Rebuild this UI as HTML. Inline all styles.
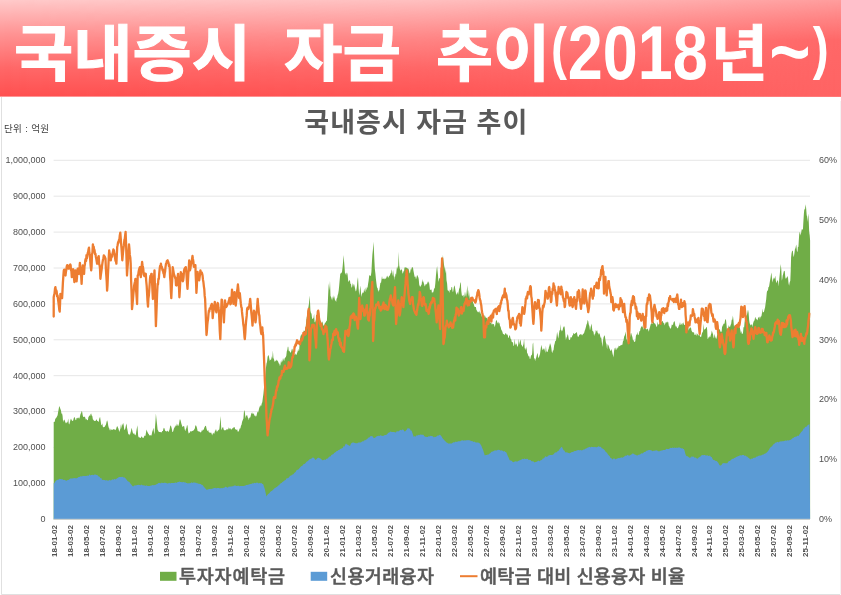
<!DOCTYPE html>
<html lang="ko"><head><meta charset="utf-8"><title>국내증시 자금 추이</title>
<style>html,body{margin:0;padding:0;background:#fff}svg{display:block}text{font-family:"Liberation Sans","Noto Sans CJK KR",sans-serif}.t{font-family:"Liberation Sans","Noto Sans CJK KR",sans-serif;font-weight:700;fill:#fff;stroke:#fff;stroke-width:1px}.n{font-family:"Liberation Sans",sans-serif;font-weight:700;fill:#fff}.n2{font-family:"Liberation Sans",sans-serif;font-weight:400;fill:#fff;stroke:#fff;stroke-width:1.5px}.k1{font-family:"Noto Sans CJK KR",sans-serif;font-weight:900;fill:#fff}.ax{font-size:9px;fill:#505050}.xl{font-size:8px;fill:#505050;font-weight:700}.lg{font-family:"Liberation Sans","Noto Sans CJK KR",sans-serif;font-size:18.5px;fill:#595959;font-weight:500;stroke:#595959;stroke-width:0.5px}</style></head><body>
<svg width="841" height="595" viewBox="0 0 841 595">
<defs><linearGradient id="bg" x1="0" y1="0" x2="0" y2="1"><stop offset="0" stop-color="#ffcaca"/><stop offset="0.35" stop-color="#ff9494"/><stop offset="0.7" stop-color="#ff6868"/><stop offset="1" stop-color="#ff5050"/></linearGradient><linearGradient id="bg2" x1="0" y1="0" x2="0" y2="1"><stop offset="0" stop-color="#ff9c9c"/><stop offset="0.21" stop-color="#ff8080"/><stop offset="0.42" stop-color="#ff6767"/><stop offset="1" stop-color="#ff6464"/></linearGradient><linearGradient id="mk" x1="0" y1="0" x2="1" y2="0"><stop offset="0" stop-color="#fff" stop-opacity="0"/><stop offset="0.5" stop-color="#fff" stop-opacity="0.22"/><stop offset="0.8" stop-color="#fff" stop-opacity="0.62"/><stop offset="1" stop-color="#fff" stop-opacity="1"/></linearGradient><mask id="m" maskUnits="userSpaceOnUse" x="0" y="0" width="841" height="97"><rect width="841" height="97" fill="url(#mk)"/></mask></defs>
<rect width="841" height="595" fill="#fff"/>
<rect width="841" height="96.6" fill="url(#bg)"/>
<rect width="841" height="96.6" fill="url(#bg2)" mask="url(#m)"/>
<path d="M1.5 97 V594.5 H840" fill="none" stroke="#e0e0e0" stroke-width="1"/>
<path d="M840.5 101 V594.5" fill="none" stroke="#f3f3f3" stroke-width="1"/>
<text><tspan class="t" x="14" y="75.8" font-size="61" textLength="237" lengthAdjust="spacingAndGlyphs">국내증시</tspan> <tspan class="t" x="284" y="75.8" font-size="61" textLength="117" lengthAdjust="spacingAndGlyphs">자금</tspan> <tspan class="t" x="436" y="75.8" font-size="61" textLength="114" lengthAdjust="spacingAndGlyphs">추이</tspan><tspan class="n" x="551" y="67.8" font-size="58" textLength="16" lengthAdjust="spacingAndGlyphs">(</tspan><tspan class="n" x="567.7" y="79.3" font-size="75.6" textLength="140" lengthAdjust="spacingAndGlyphs">2018</tspan><tspan class="t" x="711" y="75.8" font-size="61" textLength="57" lengthAdjust="spacingAndGlyphs">년</tspan><tspan class="n2" x="769.5" y="82.5" font-size="92" textLength="41" lengthAdjust="spacingAndGlyphs">~</tspan><tspan class="n" x="812.8" y="67.8" font-size="58" textLength="16" lengthAdjust="spacingAndGlyphs">)</tspan></text>
<text x="415.8" y="131.6" text-anchor="middle" font-size="27px" style="font-family:'Liberation Sans','Noto Sans CJK KR',sans-serif;font-weight:700" fill="#595959" textLength="223" lengthAdjust="spacing">국내증시 자금 추이</text>
<text x="4" y="132" font-size="9.5px" style="font-family:'Liberation Sans','Noto Sans CJK KR',sans-serif" fill="#404040" textLength="45" lengthAdjust="spacing">단위 : 억원</text>
<line x1="53.6" x2="810" y1="519.3" y2="519.3" stroke="#e6e6e6" stroke-width="1"/>
<text class="ax" x="45.5" y="522.1" text-anchor="end">0</text>
<line x1="53.6" x2="810" y1="483.4" y2="483.4" stroke="#e6e6e6" stroke-width="1"/>
<text class="ax" x="45.5" y="486.2" text-anchor="end">100,000</text>
<line x1="53.6" x2="810" y1="447.5" y2="447.5" stroke="#e6e6e6" stroke-width="1"/>
<text class="ax" x="45.5" y="450.3" text-anchor="end">200,000</text>
<line x1="53.6" x2="810" y1="411.6" y2="411.6" stroke="#e6e6e6" stroke-width="1"/>
<text class="ax" x="45.5" y="414.4" text-anchor="end">300,000</text>
<line x1="53.6" x2="810" y1="375.7" y2="375.7" stroke="#e6e6e6" stroke-width="1"/>
<text class="ax" x="45.5" y="378.5" text-anchor="end">400,000</text>
<line x1="53.6" x2="810" y1="339.8" y2="339.8" stroke="#e6e6e6" stroke-width="1"/>
<text class="ax" x="45.5" y="342.6" text-anchor="end">500,000</text>
<line x1="53.6" x2="810" y1="303.9" y2="303.9" stroke="#e6e6e6" stroke-width="1"/>
<text class="ax" x="45.5" y="306.7" text-anchor="end">600,000</text>
<line x1="53.6" x2="810" y1="268" y2="268" stroke="#e6e6e6" stroke-width="1"/>
<text class="ax" x="45.5" y="270.8" text-anchor="end">700,000</text>
<line x1="53.6" x2="810" y1="232.1" y2="232.1" stroke="#e6e6e6" stroke-width="1"/>
<text class="ax" x="45.5" y="234.9" text-anchor="end">800,000</text>
<line x1="53.6" x2="810" y1="196.2" y2="196.2" stroke="#e6e6e6" stroke-width="1"/>
<text class="ax" x="45.5" y="199" text-anchor="end">900,000</text>
<line x1="53.6" x2="810" y1="160.3" y2="160.3" stroke="#e6e6e6" stroke-width="1"/>
<text class="ax" x="45.5" y="163.1" text-anchor="end">1,000,000</text>
<text class="ax" x="819" y="522.1">0%</text>
<text class="ax" x="819" y="462.3">10%</text>
<text class="ax" x="819" y="402.4">20%</text>
<text class="ax" x="819" y="342.6">30%</text>
<text class="ax" x="819" y="282.8">40%</text>
<text class="ax" x="819" y="222.9">50%</text>
<text class="ax" x="819" y="163.1">60%</text>
<path d="M53.7 421.9 L54.2 422.1 L54.8 421.4 L55.3 418.5 L55.9 418.6 L56.4 417.5 L57 416.5 L57.6 415.2 L58.1 412.2 L58.7 409.1 L59.2 406 L59.8 407.3 L60.4 409 L60.9 410.2 L61.5 413.7 L62.1 413.5 L62.6 415.9 L63.1 421.9 L63.7 420.2 L64.3 419.4 L64.8 420.6 L65.4 422.3 L66 423.6 L66.5 422.5 L67.1 422.5 L67.6 421.9 L68.2 418.5 L68.8 423.8 L69.3 424.5 L69.9 422.2 L70.4 420.1 L71 418.6 L71.6 419.9 L72.1 420.7 L72.7 421.1 L73.2 420.5 L73.8 418 L74.4 416.9 L74.9 417.7 L75.5 420.1 L76.1 420.3 L76.6 417.8 L77.2 418.5 L77.7 417.7 L78.3 417.6 L78.9 418.5 L79.4 418.6 L80 416.3 L80.5 414.1 L81.1 413.1 L81.6 411 L82.2 412 L82.7 415.2 L83.3 416.9 L83.8 417.1 L84.3 416.6 L84.8 417.1 L85.3 417.7 L85.8 419.7 L86.3 418.8 L86.8 419.7 L87.3 420.3 L87.9 419.9 L88.4 417.1 L88.9 416.6 L89.5 415.2 L90.1 416 L90.6 414.1 L91.2 413.5 L91.7 415.4 L92.3 416 L92.9 419.4 L93.4 419.7 L94 420.7 L94.5 421.1 L95.1 420.8 L95.7 420.9 L96.2 419.4 L96.7 419.4 L97.2 421.2 L97.7 420.7 L98.2 421.5 L98.7 421.9 L99.2 418.9 L99.6 417.8 L100.1 416.9 L100.7 421.3 L101.3 425.3 L101.8 425.1 L102.3 423.3 L102.8 426.4 L103.3 427.5 L103.8 427 L104.3 427.1 L104.9 426.4 L105.5 425.3 L106 424.4 L106.6 421.7 L107.1 420.3 L107.7 421.9 L108.3 426.1 L108.8 427.8 L109.3 428.4 L109.8 430.2 L110.3 430.4 L110.8 428.6 L111.3 430.3 L111.8 429.3 L112.4 429.9 L112.9 429.4 L113.4 429.1 L113.9 429.5 L114.4 429.6 L115 429.5 L115.5 430.3 L116.1 428.9 L116.7 426.9 L117.2 426.1 L117.8 427.2 L118.3 428.3 L118.9 430.3 L119.4 432 L119.9 430.1 L120.4 428.8 L120.9 424.2 L121.4 428.7 L122 423.6 L122.5 425.7 L123.1 422.8 L123.7 425 L124.2 429 L124.8 430.3 L125.4 427.9 L125.9 425.5 L126.5 423.6 L127 427.4 L127.6 430.5 L128.2 433.7 L128.7 434.6 L129.3 434.1 L129.8 435.4 L130.4 432.9 L131 430.9 L131.5 427.8 L132.1 429.8 L132.6 431.9 L133.2 433.7 L133.7 433.3 L134.2 435.3 L134.7 433.1 L135.2 434.7 L135.7 435.4 L136.3 431.2 L136.8 428.6 L137.4 425.3 L137.8 430.4 L138.2 436.2 L138.7 436.9 L139.2 438.2 L139.7 436.7 L140.3 438.1 L140.8 437.9 L141.3 436.3 L141.8 436.7 L142.3 437.4 L142.8 437.8 L143.3 437.9 L143.8 437.6 L144.4 435.2 L144.9 436.2 L145.5 435.4 L146.1 431.7 L146.6 429.5 L147.1 431.2 L147.6 432.2 L148.2 433.8 L148.7 433.8 L149.2 435.4 L149.7 435.3 L150.2 434.9 L150.7 435.6 L151.2 435.8 L151.7 434.5 L152.2 431.9 L152.8 430.2 L153.4 427.8 L153.9 431.2 L154.5 434.5 L155 427.2 L155.4 422.3 L155.9 413.5 L156.4 418.5 L157 423.8 L157.6 429.5 L158.1 430.4 L158.7 431.8 L159.2 432 L159.7 431.9 L160.3 431.9 L160.8 432.3 L161.3 432.4 L161.8 432 L162.3 430.9 L162.9 430.9 L163.4 428.7 L163.9 427.8 L164.5 428.6 L165 430.5 L165.5 430.9 L166 431.2 L166.5 431.7 L167 430.8 L167.5 430.7 L168 431.6 L168.5 432 L169 431 L169.6 429.2 L170.1 426.6 L170.7 425.3 L171.2 426.6 L171.8 428.7 L172.4 432 L172.9 431.9 L173.4 430.4 L173.9 428.4 L174.4 427.8 L174.9 426.5 L175.4 426.4 L175.9 424.9 L176.4 426.2 L176.9 423.6 L177.5 425.1 L178 426.2 L178.6 425.3 L179.1 423.2 L179.7 419.6 L180.3 419.4 L180.8 421.2 L181.4 423.7 L181.9 425.3 L182.5 426.9 L183.1 426.4 L183.6 426.1 L184.2 426.2 L184.7 429.3 L185.3 431.2 L185.8 429.2 L186.4 428 L186.9 425.6 L187.5 425.3 L188.1 430.9 L188.7 433.7 L189.1 432.8 L189.6 433 L190 431.9 L190.5 431.1 L191 431.6 L191.5 431.6 L192 431 L192.5 431.1 L193.1 430.4 L193.6 430.4 L194.2 429.4 L194.8 428.4 L195.3 425.7 L195.9 425.2 L196.4 426.3 L197 428 L197.6 431.1 L198.1 431.3 L198.6 431.4 L199.1 431 L199.6 431.9 L200.1 431.9 L200.6 432.6 L201.1 432.2 L201.6 431 L202.1 429.6 L202.6 431.1 L203.2 429.9 L203.7 429.4 L204.3 427.7 L204.8 426.7 L205.4 425.8 L206 426.1 L206.5 428.6 L207.1 430.5 L207.6 431.1 L208.2 430.1 L208.7 432 L209.2 432.6 L209.7 432.4 L210.2 432.8 L210.7 432.7 L211.2 432.6 L211.7 434.1 L212.2 435.6 L212.7 433.6 L213.2 433.7 L213.7 432.4 L214.2 433.9 L214.7 431.8 L215.2 431.1 L215.7 429.6 L216.2 429.4 L216.7 431.7 L217.2 431.4 L217.7 431.1 L218.3 429.4 L218.9 430.6 L219.4 428.6 L219.9 423.5 L220.4 416 L220.9 422.4 L221.4 430.3 L222 428.6 L222.5 427.6 L223.1 426.9 L223.6 429.3 L224 430.2 L224.5 430.3 L225 430.2 L225.5 430.1 L226 430.4 L226.5 429.1 L227 429.4 L227.5 428.9 L228 429.9 L228.5 426.9 L229 429.6 L229.5 428.6 L230 427.7 L230.5 428.8 L231 429.4 L231.5 429.2 L232 429.4 L232.5 427.8 L233 428.6 L233.5 427.4 L234 426.9 L234.6 427.2 L235.1 429 L235.7 429.6 L236.2 429.4 L236.7 429.9 L237.2 429.3 L237.7 431.8 L238.2 431 L238.7 431.9 L239.3 429.5 L239.9 428.3 L240.4 428.6 L241 425.4 L241.5 425 L242.1 421.8 L242.5 420.7 L243 419.5 L243.4 418.5 L243.9 411.9 L244.5 410.1 L245 413.6 L245.5 418.5 L246 415.7 L246.6 415.5 L247.1 415.1 L247.7 417.2 L248.3 418.3 L248.8 420.2 L249.4 417.3 L249.9 417.9 L250.5 416.8 L251.1 414.3 L251.6 413.1 L252.2 412.6 L252.7 413.9 L253.2 414.3 L253.7 413.1 L254.2 414.7 L254.7 416 L255.3 415.5 L255.8 416.7 L256.4 416 L256.9 414.1 L257.5 411.4 L258.1 412.6 L258.6 410.7 L259.2 408 L259.7 406.7 L260.3 405.1 L260.9 406.8 L261.4 405 L261.8 403.2 L262.3 402.3 L262.9 397.4 L263.4 393.9 L263.9 388.8 L264.3 384.8 L264.8 380.4 L265.4 375.3 L265.9 368.2 L266.5 363.6 L267 362 L267.6 356.8 L268.2 355.2 L268.7 355.5 L269.3 358.4 L269.8 361.1 L270.3 359.7 L270.8 360.1 L271.3 356 L271.8 359.7 L272.4 356.9 L272.9 350.6 L273.4 358.1 L273.9 359.1 L274.4 361.1 L274.9 361.9 L275.4 360.3 L276 361.6 L276.6 359.4 L277.1 360.3 L277.7 360.9 L278.2 361.7 L278.8 363.6 L279.4 363.8 L279.9 366.1 L280.4 364.9 L280.9 360.9 L281.4 363 L281.9 360.1 L282.4 361.9 L283 358.1 L283.6 359.7 L284.1 361.2 L284.7 358.2 L285.2 357.7 L285.8 356.9 L286.3 355.7 L286.8 351.3 L287.3 349.9 L287.8 346.8 L288.3 346.8 L288.7 350.6 L289.2 351.8 L289.7 350.6 L290.3 352.5 L290.8 352.8 L291.4 350.8 L292 348.5 L292.5 349.3 L293 351.7 L293.5 353.3 L294 351.4 L294.5 354.8 L295 355.2 L295.6 353.2 L296.1 354.9 L296.6 354.4 L297.1 353.1 L297.7 351.2 L298.2 348.8 L298.7 351.2 L299.2 350.2 L299.6 343.7 L300 339.2 L300.6 335.9 L301.1 335 L301.7 333.8 L302.2 338.3 L302.8 335.6 L303.4 332.2 L303.9 330.3 L304.5 331 L305 330.8 L305.6 327.3 L306.2 321.8 L306.7 317.2 L307.3 315.1 L307.8 310.2 L308.4 307.2 L309 303.6 L309.6 295.5 L310 301.5 L310.4 310.6 L311 313.3 L311.5 313.4 L312.1 318.4 L312.6 319 L313.1 318.6 L313.6 317.4 L314.1 313.6 L314.6 322 L315.1 322.4 L315.6 320.8 L316.1 318.7 L316.6 317.9 L317.1 316.3 L317.6 313.9 L318.2 314.4 L318.7 315.5 L319.2 317.6 L319.7 317.8 L320.2 320.7 L320.7 321 L321.3 324.4 L321.8 323 L322.4 321.3 L323 324.3 L323.5 325.7 L324.1 325.6 L324.6 323.8 L325.2 322.8 L325.8 322.2 L326.3 321.1 L326.9 320.7 L327.3 312.7 L327.8 302.7 L328.2 293.8 L328.8 283.2 L329.4 290.4 L330 280.5 L330.5 295.9 L331.1 297.1 L331.6 300 L332.1 296.3 L332.6 300.8 L333.1 294.9 L333.6 298.8 L334.1 295.9 L334.6 298.3 L335.1 300.8 L335.6 300.3 L336.1 302.2 L336.6 298.6 L337.1 298.3 L337.6 295.5 L338.2 293.4 L338.7 290.4 L339.2 285.5 L339.8 278.8 L340.3 273.6 L340.9 273.6 L341.5 272.7 L342 271.9 L342.6 267.1 L343.1 261.4 L343.7 255.1 L344.1 261.7 L344.6 267.7 L345 273.6 L345.5 273.2 L346.1 275.5 L346.6 272.7 L347.1 272.8 L347.6 274.8 L348.2 280.8 L348.7 282 L349.3 280.5 L349.9 280.1 L350.4 283.7 L351 284 L351.5 287.7 L352.1 287.1 L352.6 282.6 L353.1 286.7 L353.6 284.3 L354.1 284.2 L354.6 286.2 L355.2 289.1 L355.7 291.5 L356.3 290.4 L356.9 286.6 L357.4 280.5 L358 277 L358.6 288.1 L359.2 295.5 L359.7 292.1 L360.2 285.4 L360.8 289.9 L361.3 297.1 L361.9 294 L362.5 293.1 L363 292.1 L363.6 293.2 L364.1 288.6 L364.7 290.9 L365.3 292 L365.8 287.3 L366.4 290.4 L366.9 287.1 L367.5 288.1 L368.1 283.7 L368.6 280.8 L369.2 275.6 L369.7 275.3 L370.3 275.9 L370.9 275.4 L371.4 271.9 L371.9 262.6 L372.4 254.5 L372.9 249.8 L373.4 241.7 L373.9 249.5 L374.3 258.4 L374.8 268.6 L375.4 273.4 L375.9 278.8 L376.5 283.7 L377 287.6 L377.6 287.9 L378.2 292.1 L378.7 290.3 L379.3 290.3 L379.8 287.1 L380.4 282.5 L381 282.9 L381.5 279.5 L382 275.9 L382.5 278.9 L383 279 L383.5 278.6 L384 278.7 L384.5 279.6 L385 277.6 L385.5 279.2 L386.1 278.3 L386.6 277 L387.1 275.6 L387.6 276.4 L388.1 277.8 L388.6 277.3 L389.1 276.1 L389.6 275.8 L390.2 274.6 L390.8 272.8 L391.2 272.9 L391.7 269.2 L392.1 271.1 L392.6 274.5 L393.1 276.4 L393.6 269.4 L394.1 280.3 L394.6 276.5 L395.1 276.7 L395.6 273.3 L396.1 274.7 L396.6 269.4 L397.1 266 L397.6 269 L398.2 265.9 L398.7 251.7 L399.2 265.2 L399.7 267.9 L400.3 271.1 L400.8 269.4 L401.4 269.3 L402 270.2 L402.5 273.6 L403 273.2 L403.5 270.9 L404 271.4 L404.5 267.3 L405 267.7 L405.5 267.2 L406.1 267.5 L406.6 267.8 L407.1 268.1 L407.6 268.6 L408.1 268.4 L408.6 269.1 L409.1 271.3 L409.6 273.4 L410.1 272.8 L410.7 269 L411.2 269.7 L411.8 267.5 L412.4 267.5 L412.9 266.9 L413.4 270.6 L413.8 272.5 L414.3 275.3 L414.8 277.3 L415.4 276.3 L416 279.5 L416.5 277.6 L417.1 274.8 L417.6 276.1 L418.2 277.1 L418.7 279.1 L419.2 284.4 L419.7 286.1 L420.2 287.1 L420.7 285.9 L421.2 285.3 L421.7 284.2 L422.2 279 L422.7 282 L423.2 281.2 L423.7 282.9 L424.2 284.4 L424.7 286.4 L425.2 285.4 L425.8 283.9 L426.3 283.7 L426.9 284.8 L427.5 281.2 L428 283.8 L428.6 281.2 L429 282.2 L429.5 285.7 L430 290.3 L430.5 289.5 L431 289.9 L431.5 289.2 L432 293.4 L432.5 292 L433.1 292.6 L433.6 290.9 L434.2 288 L434.7 288.7 L435.3 283.6 L435.9 275.9 L436.5 270 L437.1 266 L437.5 270.4 L438 275.3 L438.4 281.9 L439 279.4 L439.5 277.7 L440.1 278.6 L440.5 275.5 L441 284.3 L441.4 283.6 L441.9 275.5 L442.4 262.4 L442.9 255 L443.4 259.8 L443.9 263.9 L444.3 266.4 L444.8 268.5 L445.4 273.6 L445.9 267.7 L446.5 280.3 L447.1 283.6 L447.6 290.3 L448.2 290.4 L448.8 291 L449.3 292.9 L449.9 289.2 L450.4 290.5 L451 289.7 L451.5 287 L452.1 287 L452.7 292 L453.2 291.6 L453.8 287.6 L454.4 285.3 L454.9 286.9 L455.5 290.8 L456.1 293.7 L456.6 295 L457.1 292 L457.6 292.8 L458.1 294.7 L458.6 292 L459.1 289 L459.7 287.6 L460.2 283.4 L460.8 281.9 L461.3 291.1 L461.9 295.4 L462.4 295.9 L462.9 295.3 L463.4 294.7 L463.9 297.7 L464.5 295.4 L465 291.5 L465.6 295.3 L466.1 297.1 L466.7 292.1 L467.3 285.3 L467.8 292.8 L468.3 297.1 L468.8 289.8 L469.3 294.5 L469.8 298.7 L470.3 298.7 L470.8 297.5 L471.3 302 L471.8 300.4 L472.4 299.9 L472.9 302.1 L473.4 303.4 L473.9 304.6 L474.4 306.4 L474.9 306.9 L475.4 307.1 L475.9 307 L476.4 309.9 L476.9 310.5 L477.4 311.5 L477.9 312.2 L478.4 311.5 L478.9 312.8 L479.4 310.4 L479.9 313.3 L480.4 313.9 L480.9 311.3 L481.4 316.9 L481.9 315 L482.4 314.6 L482.9 315.5 L483.4 314.9 L483.9 319.3 L484.5 315.3 L485 315.5 L485.5 317.2 L486 317.8 L486.5 318.3 L487 317.3 L487.5 319 L488 320.6 L488.5 317.8 L489 320.3 L489.5 323.2 L490 314.2 L490.5 323.1 L491 323.1 L491.5 323.2 L492 324.9 L492.5 323.5 L493 323.9 L493.6 324 L494.1 324.8 L494.7 327.3 L495.3 324.8 L495.8 321.6 L496.4 319.7 L496.9 321.1 L497.4 322.4 L497.9 323.6 L498.4 321.6 L498.9 323.9 L499.5 322.6 L500 325.9 L500.6 326.8 L501.2 329.5 L501.8 330.6 L502.4 331.7 L502.9 333.8 L503.5 334.1 L504.1 334.4 L504.7 335 L505.3 333.5 L505.9 332.9 L506.5 334.3 L507.1 335.3 L507.6 334 L508.2 337.9 L508.8 337.6 L509.4 335 L510 336 L510.6 338.8 L511.2 339.2 L511.8 341.9 L512.4 342.4 L512.9 341.8 L513.5 346.3 L514.1 345.3 L514.7 338.5 L515.3 345.4 L515.9 343.5 L516.5 343.7 L517.1 346.1 L517.6 347.1 L518.2 344.6 L518.8 338.8 L519.4 344.7 L520 341.1 L520.6 339.4 L521.2 344.5 L521.8 345.3 L522.4 346.9 L522.9 346.1 L523.5 344.1 L524.1 338.8 L524.7 348.4 L525.3 348.2 L525.9 350.3 L526.5 346.4 L527.1 352.9 L527.6 353.4 L528.2 355.4 L528.8 356.5 L529.3 356.2 L529.8 359.1 L530.4 358.8 L530.8 356.4 L531.3 355 L531.8 355.3 L532.2 353.1 L532.7 344 L533.2 342.4 L533.6 350.5 L534.1 358.8 L534.6 358.1 L535.1 361.2 L535.5 359.2 L536 358.2 L536.5 356.5 L537.1 354 L537.6 353.1 L538.2 357.6 L538.8 357.8 L539.4 355.7 L540 354.1 L540.5 350.3 L540.9 347.4 L541.4 344.7 L541.9 347.5 L542.4 349.4 L542.9 350.2 L543.5 348.7 L544.1 348.2 L544.7 350.1 L545.3 352.9 L545.9 345.8 L546.5 351.5 L547.1 351.8 L547.6 352.1 L548.2 349.8 L548.8 348.2 L549.3 343.2 L549.8 347.2 L550.4 342.9 L550.8 345.1 L551.3 347.8 L551.8 351.8 L552.4 352.9 L552.9 350.3 L553.5 350.6 L554.1 345.5 L554.7 343.5 L555.3 340.5 L555.9 341.2 L556.5 337.1 L557.1 331.8 L557.6 334.4 L558.2 338.8 L558.7 336.1 L559.3 331.6 L559.8 330 L560.2 330 L560.7 323.9 L561.2 331.8 L561.8 330.1 L562.4 330.9 L562.9 328.8 L563.5 326.7 L564 326.5 L564.5 326.5 L564.9 329.5 L565.4 335.5 L565.9 340 L566.5 337.6 L567.1 336.5 L567.6 334.1 L568.2 335.4 L568.8 339.5 L569.4 340 L570 340.1 L570.6 337 L571.2 337.6 L571.8 337.3 L572.4 335.2 L572.9 335.3 L573.5 332.7 L574.1 333.7 L574.7 334.1 L575.3 333.3 L575.9 333.1 L576.5 331.8 L577.1 333.5 L577.6 336.2 L578.2 337.1 L578.8 336.2 L579.4 334.5 L580 335.1 L580.6 334.1 L581.2 334 L581.8 335.3 L582.4 335.3 L582.9 334 L583.5 333.7 L584.1 332.9 L584.7 330.7 L585.3 329.3 L585.9 327.1 L586.5 324.5 L587.1 323.3 L587.6 320 L588.2 321 L588.8 324.4 L589.4 325.9 L590 330.6 L590.5 327.8 L590.9 326 L591.4 323.5 L591.9 326.5 L592.4 330.7 L592.9 331.2 L593.5 331.7 L594.1 335.9 L594.7 334.1 L595.3 333.5 L595.9 329.7 L596.5 331.8 L597.1 330 L597.6 332.8 L598.2 332.9 L598.8 334.8 L599.4 333 L600 335.3 L600.6 337.7 L601.2 337.6 L601.8 341.9 L602.4 347.1 L602.9 341.4 L603.5 337.6 L604.1 335.9 L604.7 335.3 L605.3 338.9 L605.9 342.4 L606.5 344.2 L607.1 349.4 L607.6 344.3 L608.2 344.7 L608.8 346.2 L609.4 348.2 L610 349.4 L610.6 350.9 L611.2 350.6 L611.6 348.7 L612.1 351.5 L612.6 354.1 L613.1 355.4 L613.5 357.6 L614.1 350.7 L614.7 348.2 L615.3 347.5 L615.9 350 L616.5 349.4 L617.1 347.1 L617.6 348.8 L618.2 347.6 L618.8 345.4 L619.4 346.2 L620 345.9 L620.6 345.2 L621.2 345.3 L621.8 344.7 L622.4 344.7 L622.9 341.4 L623.5 340.6 L624.1 336.7 L624.7 335.5 L625.3 334.1 L625.9 331.6 L626.5 339.4 L627.1 339.5 L627.6 341 L628.2 343.5 L628.8 342.2 L629.4 336.7 L630 337.6 L630.6 333.6 L631.2 332.9 L631.8 335.2 L632.4 336.9 L632.9 340 L633.5 340 L634.1 342.1 L634.7 341.8 L635.3 341.2 L635.9 335.9 L636.5 334.1 L637.1 335.3 L637.6 331.7 L638.2 335.3 L638.8 334.5 L639.4 331.1 L640 331.2 L640.6 328.3 L641.2 326.9 L641.8 325.9 L642.4 327.8 L642.9 324.9 L643.5 330 L644.1 326.7 L644.7 325.5 L645.3 328.2 L645.9 328.5 L646.5 329.7 L647.1 328.8 L647.6 328.7 L648.2 329.8 L648.8 331.8 L649.4 328.9 L650 327.1 L650.6 324.4 L651.2 323.5 L651.8 323.2 L652.4 324.2 L652.9 322.4 L653.5 321.2 L654.1 323 L654.7 323.5 L655.3 323.8 L655.9 325.2 L656.5 327.1 L657.1 326.2 L657.6 321.6 L658.2 324.7 L658.8 324.2 L659.4 323.7 L660 323 L660.6 322.4 L661.2 322.2 L661.8 321.8 L662.4 321 L662.9 321.2 L663.5 323.3 L664.1 323 L664.7 325.6 L665.3 323.5 L665.9 322.1 L666.5 322.7 L667.1 321.2 L667.6 322.4 L668.2 322.1 L668.8 325.8 L669.4 326.4 L670 328.2 L670.6 328.8 L671.2 327.4 L671.8 324.6 L672.4 324.7 L672.9 325.3 L673.5 322.6 L674.1 321.5 L674.7 321.2 L675.3 325.3 L675.9 326.8 L676.5 326.2 L677.1 328.2 L677.6 328.3 L678.2 327.4 L678.8 325.8 L679.4 324.7 L680 321.9 L680.6 324.9 L681.2 324.7 L681.8 323.5 L682.4 322.9 L682.9 325.4 L683.5 322.1 L684.1 324.7 L684.7 324.9 L685.2 324.7 L685.8 321.3 L686.3 323.4 L686.9 322.9 L687.4 324.7 L688 323.5 L688.6 330.7 L689 328.7 L689.5 328.4 L690 327.1 L690.5 327.7 L691 327.7 L691.5 330.5 L692 331.6 L692.5 332.2 L693 332.2 L693.5 332.6 L694 332.2 L694.5 334.9 L695 334.7 L695.5 335 L696.1 332.7 L696.6 336.3 L697.1 333.8 L697.6 333.9 L698.1 335.9 L698.6 334.5 L699.1 335.7 L699.6 334.1 L700.1 336.4 L700.6 336.9 L701.1 336.9 L701.6 334.7 L702.1 332.8 L702.6 332.2 L703.1 330.9 L703.6 323.5 L704.1 329.7 L704.6 329.4 L705.1 328.8 L705.7 328.8 L706.2 327.2 L706.8 327.1 L707.2 330.2 L707.6 338.9 L708.2 338.4 L708.7 336.9 L709.2 337.5 L709.7 336 L710.2 337.2 L710.7 335.2 L711.3 333.5 L711.8 330.5 L712.4 332.4 L713 334.3 L713.5 337.2 L714 338.6 L714.5 333.7 L715 335.9 L715.5 337.6 L716.1 338.9 L716.6 338.1 L717.2 334.7 L717.7 332.2 L718.3 331 L718.9 330.4 L719.4 328.8 L720 330 L720.5 331.4 L721.1 332.2 L721.7 330.9 L722.2 324.8 L722.8 327.1 L723.3 324.2 L723.9 323.6 L724.5 323.8 L725 320.4 L725.6 318.7 L726.1 320.7 L726.5 324.4 L727 330.5 L727.5 328.7 L728 331.1 L728.5 324.8 L729 327.1 L729.5 326.6 L730.1 326.8 L730.6 325 L731.2 323.8 L731.7 319.8 L732.3 319.7 L732.9 315.4 L733.4 319.7 L734 327.1 L734.6 325.5 L735.1 325 L735.7 326.8 L736.2 325.5 L736.7 323.7 L737.2 325 L737.7 323.5 L738.2 324.9 L738.7 322.1 L739.3 326.4 L739.9 328.1 L740.4 330.5 L740.9 333.2 L741.4 330.7 L741.9 334.2 L742.4 333.3 L742.9 333.9 L743.5 326.9 L744.1 327.5 L744.6 322.1 L745.2 318 L745.7 318.4 L746.3 315.4 L746.9 315.3 L747.4 312.6 L748 309.5 L748.6 312.7 L749.2 320.4 L749.6 323 L750.1 324.6 L750.5 325.5 L751 324.2 L751.5 325.1 L752 324.1 L752.5 327.3 L753 323.8 L753.5 322.1 L754 320.7 L754.5 320.5 L755 317.8 L755.5 317.1 L756.1 319.7 L756.7 318.5 L757.2 320.4 L757.8 319.3 L758.3 316.8 L758.9 317.9 L759.4 316.3 L759.9 319.5 L760.4 317 L760.9 316.4 L761.4 316.2 L761.9 313.6 L762.4 308.4 L762.9 313.1 L763.4 312.1 L763.9 312 L764.5 309.5 L765.1 307.2 L765.6 303.6 L766.2 299.3 L766.8 292.4 L767.3 290.2 L767.9 290.9 L768.4 287.3 L769 286.8 L769.2 285.8 L769.7 282.5 L770.1 280.3 L770.6 277.4 L771 274.4 L771.4 272.4 L772 278.2 L772.6 282.4 L773.1 280 L773.5 277.3 L773.9 279.1 L774.4 278.5 L774.8 277.7 L775.3 275.7 L775.9 280.9 L776.5 283.3 L777.1 281 L777.6 279.9 L778.2 281.8 L778.7 286.6 L779.2 279.6 L779.8 274 L780.3 268.4 L780.7 263.9 L781.3 269.5 L781.8 280.8 L782.3 278.8 L782.7 275.5 L783.2 274 L783.8 271.2 L784.4 270.7 L784.8 271.5 L785.3 277 L785.7 279.1 L786.3 277.1 L786.8 278.8 L787.4 275.7 L788 277.7 L788.5 282.9 L789.1 285.8 L789.7 282.3 L790.3 280.8 L790.7 271.2 L791.1 257.2 L791.5 253.6 L792 251.2 L792.4 250.5 L792.9 251.3 L793.3 255.3 L793.8 257.2 L794.4 253.2 L795 248.8 L795.4 248.4 L795.9 246.1 L796.3 244.6 L796.9 250.7 L797.5 252.2 L797.9 246.8 L798.4 247.1 L798.8 240.4 L799.2 234.6 L799.7 232 L800.1 232.6 L800.5 235.4 L801.1 233.1 L801.7 229.5 L802.3 229.1 L802.9 230.3 L803.4 221.3 L803.9 213.5 L804.4 208.6 L805 210.1 L805.5 204.3 L806.1 207.8 L806.7 215.2 L807.1 216.2 L807.6 221.9 L808 217 L808.4 213.5 L808.8 222.5 L809.2 232 L809.7 235.2 L810.1 240.4 L810.1 519.3 L53.7 519.3 Z" fill="#70ad47"/>
<path d="M53.7 483.3 L54.5 483.3 L55.2 481.4 L56 480.9 L56.7 479.9 L57.6 479.8 L58.4 479.8 L59.2 478.8 L60.1 479.1 L60.9 479.1 L61.8 479.2 L62.6 479.3 L63.4 479.9 L64.3 479.8 L65.1 480.2 L66 480.4 L66.8 480.8 L67.6 480 L68.5 480.1 L69.3 479.3 L70.2 479.1 L71 477.7 L71.8 479.1 L72.7 478.3 L73.5 478.2 L74.4 478 L75.2 478.3 L76.1 478.3 L76.9 478.2 L77.7 477.8 L78.6 477.1 L79.4 477 L80.3 476.6 L81.1 475.9 L81.9 476.8 L82.8 475.7 L83.6 476.1 L84.5 475.9 L85.3 475.9 L86.1 475.9 L87 475.7 L87.8 475.5 L88.7 475.7 L89.5 474.2 L90.3 475.4 L91.2 475.1 L92 474.9 L92.9 474.7 L93.7 475.2 L94.5 474.5 L95.4 474.4 L96.2 475.1 L97.1 474.7 L97.9 475.7 L98.7 476.6 L99.6 476.8 L100.4 478.2 L101.3 478.1 L102.1 479.9 L102.9 479.7 L103.8 479.9 L104.6 480.1 L105.5 480.4 L106.3 480 L107.1 480.8 L108 480.3 L108.8 480.7 L109.7 479.7 L110.5 480.4 L111.3 480.2 L112.2 479.3 L113 479.7 L113.9 479.4 L114.7 478.7 L115.5 479.4 L116.4 478.8 L117.2 478.2 L118.1 477.7 L118.9 476.9 L119.7 477 L120.6 477.1 L121.4 477.1 L122.3 476.8 L123.1 477.3 L123.9 477.6 L124.8 477.4 L125.6 478.4 L126.5 479.4 L127.3 480.8 L128.2 481.5 L129 481.7 L129.8 482.4 L130.7 483.9 L131.5 484.7 L132.4 486.1 L133.2 486.5 L134 485.7 L134.9 485.2 L135.7 485.5 L136.6 485.3 L137.4 484.9 L138.2 484.7 L139.1 485 L139.9 485 L140.8 485.3 L141.6 484.4 L142.4 485.2 L143.3 485.3 L144.1 485.5 L145 485.5 L145.8 485.9 L146.6 485.3 L147.5 486.1 L148.3 485.9 L149.2 486.1 L150 485.9 L150.8 485.6 L151.7 485.4 L152.5 485.1 L153.4 485.3 L154.2 485 L155 485.3 L155.9 484.6 L156.7 484.2 L157.6 483.8 L158.4 483.1 L159.2 482.9 L160.1 483.1 L160.9 483.6 L161.8 482.4 L162.6 483.1 L163.4 483.1 L164.3 482.8 L165.1 482.8 L166 483 L166.8 483.2 L167.6 483.5 L168.5 483.2 L169.3 482.8 L170.2 483.4 L171 482.9 L171.8 483.1 L172.7 482.9 L173.5 483 L174.4 482.9 L175.2 482.5 L176.1 482.7 L176.9 482.8 L177.7 482 L178.6 481.9 L179.4 481.6 L180.3 481.9 L181.1 481.9 L181.9 482.3 L182.8 482.2 L183.6 481.9 L184.5 482.4 L185.3 482.2 L186.1 483 L187 483.1 L187.8 483.5 L188.7 483.3 L189.3 483.3 L190 483.2 L190.8 483 L191.7 482.2 L192.5 483 L193.4 482.4 L194.2 482.2 L195 483.1 L195.9 482.6 L196.7 483.2 L197.6 483.2 L198.4 483.7 L199.2 483.7 L200.1 484 L200.9 484.1 L201.8 484.9 L202.6 484.9 L203.4 486.2 L204.3 487.2 L205.1 488.2 L206 488.9 L206.8 489.9 L207.6 489.4 L208.5 489.3 L209.3 489.1 L210.2 489.1 L211 488.8 L211.8 488.9 L212.7 488.4 L213.5 488.2 L214.4 487.9 L215.2 487.8 L216.1 488.4 L216.9 487.9 L217.7 488 L218.6 488.1 L219.4 488.2 L220.3 488.2 L221.1 488.3 L221.9 488 L222.8 488.3 L223.6 487.7 L224.5 487.8 L225.3 486.4 L226.1 487.2 L227 487.1 L227.8 488 L228.7 486.4 L229.5 486.7 L230.3 486.6 L231.2 486.7 L232 486.1 L232.9 486.4 L233.7 485.7 L234.5 485.4 L235.4 485.4 L236.2 485.9 L237.1 486.1 L237.9 485.8 L238.7 485.7 L239.6 486.2 L240.4 486.1 L241.3 486.1 L242.1 486.1 L242.9 485.9 L243.8 486.1 L244.6 485.8 L245.5 485.4 L246.3 484.9 L247.1 484.9 L248 484.8 L248.8 484.6 L249.7 484.3 L250.5 484 L251.3 484.1 L252.2 483.2 L253 483.4 L253.9 483.2 L254.7 482.8 L255.5 483.2 L256.4 482.7 L257.2 482.4 L258.1 483.3 L258.9 483.3 L259.7 482.9 L260.6 483.2 L261.4 483.1 L262.3 483.9 L263.1 484 L263.9 486.5 L264.8 489.1 L265.6 492.8 L266.5 496.6 L267.3 495 L268.2 494.1 L269 493.5 L269.8 492.5 L270.7 491.6 L271.5 491.1 L272.4 490.4 L273.2 489.4 L274 489.1 L274.9 487.7 L275.7 487.7 L276.6 487 L277.4 486.6 L278.2 485.5 L279.1 485.2 L279.9 484 L280.8 483.2 L281.6 483.1 L282.4 482 L283.3 481.5 L284.1 480.7 L285 480.2 L285.8 479.7 L286.6 478.3 L287.5 478.2 L288.3 477.9 L289.2 476.9 L290 475.9 L290.8 475.6 L291.7 475.2 L292.5 474.5 L293.4 474.2 L294.2 473.1 L295 472.5 L295.9 471.6 L296.7 470 L297.6 469.7 L298.4 469.5 L299.2 468.6 L300.1 467.5 L300.9 466.4 L301.8 465.9 L302.6 465.6 L303.4 464.2 L304.3 463.9 L305.1 463.5 L306 462.6 L306.8 461.6 L307.6 461.3 L308.4 460.6 L309.2 459.8 L310 458.8 L310.8 459.1 L311.6 458.6 L312.5 457.4 L313.3 457.7 L314 457.8 L314.7 459.1 L315.5 459.9 L316.3 459.3 L317.1 458.5 L317.9 457.8 L318.7 457.7 L319.6 458.2 L320.4 458.4 L321.2 459.1 L322 459.9 L322.8 460.2 L323.7 460 L324.5 459.6 L325.3 459.9 L326.2 458.9 L327 458.5 L327.9 458.5 L328.8 457.1 L329.7 456.6 L330.5 456.6 L331.4 455 L332.3 454.6 L333.2 454.2 L334 453.3 L334.9 452.4 L335.8 452.1 L336.7 450.9 L337.5 451 L338.4 450.1 L339.3 450 L340.1 449 L341 448.8 L341.9 448.2 L342.8 447.9 L343.6 446 L344.4 446.7 L345.2 444.8 L346 443.5 L346.9 444.4 L347.7 444.7 L348.5 445.2 L349.3 445.7 L350.1 445.7 L351 443.4 L351.8 443.1 L352.6 442.4 L353.5 442.5 L354.3 442.8 L355.2 443.3 L356.1 443 L357 443.5 L357.9 442.7 L358.8 442.4 L359.7 442.6 L360.6 442.4 L361.5 442 L362.4 441.3 L363.3 441.5 L364.2 440.3 L365 440.4 L365.9 439.8 L366.8 439.2 L367.7 438.4 L368.5 437.6 L369.4 437.5 L370.3 436.3 L371.2 435.9 L372 436.3 L372.8 436.6 L373.6 438.1 L374.4 438.1 L375.3 437.5 L376.1 436.8 L376.9 436.3 L377.7 435.9 L378.6 435.8 L379.5 435.9 L380.3 435.3 L381.2 435.5 L382.1 435.9 L383 435.8 L383.8 435.8 L384.7 434.9 L385.6 435 L386.5 434.8 L387.3 433.9 L388.2 432.7 L389.1 432.7 L390 431.8 L390.8 431.5 L391.7 432 L392.6 431.9 L393.4 432.1 L394.3 431.9 L395.2 432.6 L396.1 432.2 L396.9 431 L397.8 431.4 L398.7 431.3 L399.6 430.4 L400.4 429.7 L401.2 430.2 L402 430.1 L402.8 429.3 L403.6 430 L404.3 431.2 L405 431.5 L405.8 430.7 L406.7 429.7 L407.5 428.3 L408.3 428.2 L409.1 428.4 L409.9 428.8 L410.8 430.7 L411.6 430.4 L412.3 432.7 L413 434.7 L413.8 437 L414.6 436.1 L415.5 436.7 L416.4 435.2 L417.3 435.7 L418.1 434.8 L419 435.2 L419.9 434.8 L420.8 434.5 L421.6 434.8 L422.5 434.8 L423.4 434.8 L424.2 435.9 L425.1 436.7 L426 436.8 L426.9 437 L427.7 437.1 L428.6 436.3 L429.5 436.4 L430.4 435.7 L431.2 435.9 L432.1 435.9 L433 436.6 L433.9 437.4 L434.7 436.8 L435.6 437 L436.5 436.5 L437.4 435.4 L438.2 435.7 L439.1 434.9 L440 434.8 L440.8 435.4 L441.6 436.4 L442.4 438.1 L443.3 439.2 L444.1 439.8 L444.9 441 L445.7 441.5 L446.5 442.4 L447.3 442.7 L448.2 443.5 L449 443.5 L449.8 443.5 L450.7 443.6 L451.6 443.6 L452.4 442.9 L453.3 442.3 L454.2 442.4 L455 441.9 L455.9 441.4 L456.8 441.9 L457.7 441.4 L458.5 441.3 L459.4 441.3 L460.3 441.2 L461.2 440.4 L462 440.5 L462.9 440.2 L463.8 440.7 L464.7 440.3 L465.5 440.6 L466.4 440.2 L467.3 440.2 L468.2 440.1 L469.1 440.5 L470 440.1 L470.9 441.2 L471.8 441 L472.7 441.3 L473.6 442.1 L474.4 441.4 L475.2 442.2 L476 442.4 L476.7 442.5 L477.5 442.4 L478.2 442.4 L479.1 443.1 L480 443.5 L480.7 444.7 L481.5 446.1 L482.2 447.9 L483.1 449.9 L483.9 452.8 L484.8 455.5 L485.8 455 L486.8 455.1 L487.8 454.6 L488.7 454.4 L489.6 453.6 L490.5 452.9 L491.4 451.8 L492.2 451.7 L493.1 451.2 L494 451.1 L494.9 450.3 L495.7 450.4 L496.6 450.5 L497.5 450.1 L498.3 449.8 L499.2 450.1 L500.1 449.9 L501 450.9 L501.8 450.1 L502.7 451 L503.6 451.4 L504.5 451.1 L505.3 452 L506.2 452.3 L507 454.1 L507.9 456.2 L508.7 457.8 L509.5 459.9 L510.4 460.4 L511.2 460.5 L512.1 461.3 L513 462.3 L513.9 462.1 L514.7 461.4 L515.6 461.2 L516.5 461.6 L517.4 461.5 L518.2 461 L519.1 460.4 L520 460.3 L520.8 459.8 L521.7 459.4 L522.6 458.8 L523.5 459.3 L524.3 458.6 L525.2 459 L526.1 458.9 L527 458.8 L527.8 459 L528.7 459.9 L529.6 459.7 L530.5 460 L531.3 461 L532.2 461.6 L533.1 461 L534 462.3 L534.8 462.2 L535.7 462.1 L536.6 461.7 L537.5 461.3 L538.3 460.6 L539.2 461.2 L540.1 461 L540.9 459.8 L541.8 460.2 L542.7 458.4 L543.6 458.4 L544.4 457.7 L545.3 456.3 L546.2 456.7 L547.1 456.9 L547.9 455.8 L548.8 455.5 L549.7 455 L550.6 454.9 L551.4 455 L552.3 455 L553.2 454.4 L554.1 453.7 L554.9 452.4 L555.8 452.6 L556.7 452.2 L557.5 451.2 L558.4 451.1 L559.3 449.5 L560.2 448.6 L561 447.5 L561.9 446.8 L562.7 448.4 L563.6 450.2 L564.4 450.5 L565.2 452.3 L566.1 452.5 L566.9 452.3 L567.8 452.7 L568.7 453.1 L569.6 453.3 L570.4 453.1 L571.3 452.2 L572.2 451.9 L573.1 452.1 L573.9 451.2 L574.8 451.1 L575.7 451 L576.6 450.6 L577.4 450.2 L578.3 450.1 L579.2 450.2 L580 450.3 L580.9 450.1 L581.8 450.4 L582.7 450.1 L583.5 449.6 L584.4 449.5 L585.3 448.8 L586.2 448.6 L587 447.9 L587.9 447.4 L588.8 447.2 L589.7 446.8 L590.5 447.4 L591.4 446.8 L592.3 447.1 L593.2 447 L594 447.3 L594.9 446.8 L595.8 447.2 L596.7 447.2 L597.5 446.9 L598.4 446.3 L599.3 446.8 L600.1 446.8 L601 447.1 L601.9 448.6 L602.8 448.5 L603.6 449.2 L604.5 450.1 L605.4 451.5 L606.3 452.3 L607.1 452.9 L608 454.5 L608.9 455.5 L609.7 456.2 L610.5 458.1 L611.3 458.1 L612.2 459.5 L613 459.1 L613.9 458.2 L614.8 458.8 L615.7 459.6 L616.5 458.8 L617.4 458.5 L618.3 458 L619.2 458.3 L620 457.8 L620.9 457.7 L621.8 457.3 L622.6 457.7 L623.5 457.1 L624.4 456.5 L625.3 455.5 L626.1 456.1 L627 455.2 L627.9 454.8 L628.8 455.8 L629.6 455.5 L630.5 455.1 L631.3 454.5 L632.1 453.9 L632.9 453.3 L633.8 454 L634.7 454.4 L635.5 454.8 L636.4 455.3 L637.3 455.5 L638.2 455 L639 454.5 L639.9 454.7 L640.8 453.7 L641.7 453.3 L642.5 453.6 L643.4 452.7 L644.3 452.1 L645.1 452 L646 451.2 L646.9 450.6 L647.8 450.4 L648.6 450.1 L649.3 449.9 L650 450.1 L650.9 450.2 L651.7 450.6 L652.6 451.2 L653.5 450.8 L654.4 450.7 L655.2 450.4 L656.1 450.6 L657 450.3 L657.9 451.3 L658.7 451.2 L659.6 451.3 L660.5 450.8 L661.4 450.6 L662.2 450.5 L663.1 450.1 L664 450 L664.9 449.9 L665.7 449.5 L666.6 448.8 L667.5 449 L668.3 449.1 L669.2 449 L670.1 447.7 L671 448 L671.8 447.9 L672.7 447.4 L673.6 447.9 L674.5 447.5 L675.3 448 L676.2 447.5 L677.1 447.9 L678 447.5 L678.8 447.5 L679.7 447.6 L680.6 447.9 L681.4 448.4 L682.2 448.1 L683 448.9 L683.9 449 L684.6 450.7 L685.3 453.7 L686 455.5 L686.9 456.2 L687.7 456.2 L688.5 456.9 L689.3 457.7 L690.2 457.5 L691.1 457.4 L691.9 456 L692.8 456.9 L693.7 456.6 L694.5 457.7 L695.3 457.6 L696.1 457.8 L697 458.8 L697.8 458.6 L698.7 457.6 L699.6 456.9 L700.5 456.4 L701.3 455.5 L702.2 455.1 L703.1 455.3 L704 455.1 L704.8 455.1 L705.7 455.5 L706.6 455.4 L707.5 455.2 L708.3 456.1 L709.2 455.7 L710.1 455.5 L710.9 456.9 L711.7 457.1 L712.5 458.7 L713.3 459.9 L714.2 460.1 L715 460.5 L715.8 460.9 L716.6 461 L717.4 461.8 L718.3 462.8 L719.1 464.6 L719.9 465.4 L720.7 465.6 L721.5 465 L722.4 463.6 L723.2 463.2 L724 462.9 L724.8 463.2 L725.6 463.3 L726.5 463.2 L727.3 463.2 L728.2 461.8 L729.1 460.9 L730 460.9 L730.8 459.9 L731.7 459.2 L732.6 458.7 L733.4 458.8 L734.3 458.1 L735.2 457.7 L736.1 456.9 L736.9 456.7 L737.8 456.3 L738.7 455.9 L739.6 455.5 L740.4 455.2 L741.3 455.6 L742.2 455.1 L743.1 455 L743.9 455.1 L744.8 455.9 L745.6 455.5 L746.4 456.5 L747.2 456.6 L748 457.5 L748.8 457.9 L749.7 458.8 L750.5 459.5 L751.4 458.6 L752.2 458.9 L753.1 458 L754 457.8 L754.9 457.7 L755.7 457.4 L756.6 456.6 L757.5 456.5 L758.3 456.1 L759.2 455.5 L760.1 455.7 L761 455.2 L761.8 455.2 L762.7 454.4 L763.6 454.4 L764.5 453.7 L765.3 453.4 L766.2 452.9 L767.1 452 L768 451.2 L768.8 449.9 L769.6 448.6 L770.4 447.5 L771.2 446.8 L772.1 446.3 L773 444.7 L773.9 444.1 L774.7 443.5 L775.6 442.4 L776.5 442.4 L777.4 441.8 L778.3 442.6 L779.2 441.8 L780.2 441.6 L781.1 441.3 L782 441.5 L782.9 441 L783.8 441.3 L784.7 440.8 L785.6 440.5 L786.5 440.7 L787.4 440.2 L788.3 440.5 L789.2 440.2 L790 439.9 L790.9 439.8 L791.7 438.9 L792.5 438.3 L793.4 438 L794.2 437 L795 437.1 L795.9 436.4 L796.8 436.4 L797.7 435.4 L798.5 435.9 L799.4 434.4 L800.2 433.4 L801 432.3 L801.8 431.5 L802.6 430.7 L803.5 428.6 L804.3 428.4 L805.1 427.1 L806 426.7 L806.8 426.6 L807.7 425 L808.6 424.7 L809.5 423.9 L810.1 519.3 L53.7 519.3 Z" fill="#5b9bd5"/>
<path d="M53.7 316.6 L53.7 297.3 L54.1 294.9 L54.5 293.9 L55 288.5 L55.4 287.2 L55.8 290.2 L56.3 290.3 L56.7 291.9 L57.1 296.4 L57.6 295.6 L58 299 L58.4 302 L58.9 306.2 L59.3 309.9 L59.7 311.6 L60.1 302.7 L60.4 293.9 L60.8 295.8 L61.3 294.8 L61.7 296.6 L62.1 298.2 L62.5 290.6 L62.9 282.6 L63.4 275.4 L63.8 270.4 L64.2 269.6 L64.6 272.6 L65 274 L65.5 275.5 L65.9 272 L66.4 269.4 L66.8 266.2 L67.2 265.1 L67.6 267.4 L68.1 268.4 L68.5 268.7 L68.9 268.7 L69.3 265.5 L69.7 265.1 L70.2 264.5 L70.6 265.1 L71 270.2 L71.4 271.1 L71.8 277.1 L72.3 273.6 L72.7 275.2 L73.1 269.2 L73.5 270.4 L73.9 277.3 L74.4 282.2 L74.8 278.7 L75.2 273.9 L75.5 270.4 L75.9 274.7 L76.2 278.4 L76.6 281.3 L76.9 278.5 L77.3 272.6 L77.7 268.7 L78.1 269.7 L78.5 271.3 L78.9 273.8 L79.2 268.9 L79.6 266.4 L79.9 262.9 L80.3 267.1 L80.8 274.8 L81.2 276.2 L81.6 283.9 L82 276.3 L82.4 270.3 L82.8 265.4 L83.2 265.5 L83.7 273.5 L84.1 273.8 L84.5 266.2 L84.9 264.4 L85.3 260.3 L85.7 258.8 L86.1 260.8 L86.5 255.2 L86.9 258.4 L87.3 256.1 L87.7 253.1 L88.2 251.7 L88.6 249 L89 247.7 L89.4 253.1 L89.9 255.3 L90.3 261.2 L90.7 266.3 L91.2 270.4 L91.6 266.3 L92 254.3 L92.4 252.9 L92.9 244.4 L93.3 247.1 L93.7 246.8 L94.1 249.4 L94.5 249.9 L95 254.2 L95.4 253.6 L95.8 256.4 L96.2 258.4 L96.6 260.9 L97.1 263.7 L97.5 261.5 L97.9 259.7 L98.3 256.9 L98.7 256.1 L99.2 264.5 L99.6 265 L100 268.5 L100.4 278.8 L100.8 275.3 L101.3 271.9 L101.7 269.2 L102.1 265.4 L102.5 262.6 L102.9 260.1 L103.4 258.2 L103.8 255.3 L104.2 257.4 L104.6 256.4 L105 257.3 L105.5 258.7 L105.9 269.2 L106.3 275.3 L106.7 281.3 L107.1 290.6 L107.5 285.5 L107.9 275.5 L108.4 265.6 L108.8 256.8 L109.2 250.3 L109.6 253.2 L110 254.2 L110.4 256.4 L110.8 260.3 L111.3 257 L111.7 256.3 L112.1 256.7 L112.5 253.6 L113 251.9 L113.4 249.5 L113.9 250.3 L114.3 253.4 L114.7 254.8 L115.1 258.1 L115.5 260.8 L116 261.2 L116.4 263.7 L116.8 255.1 L117.2 246.9 L117.6 245.2 L118.1 242.1 L118.5 242.7 L118.9 240.2 L119.4 239.4 L119.8 235.4 L120.3 232.6 L120.7 237.8 L121.1 243.4 L121.5 248.2 L121.9 253.7 L122.3 260.3 L122.7 256 L123.1 251.7 L123.5 248.4 L123.9 245.2 L124.4 239.8 L124.8 238.9 L125.2 235.2 L125.6 231.8 L126.1 244.8 L126.5 257.9 L127 275.5 L127.4 269.2 L127.8 264.5 L128.2 255.9 L128.6 250 L129 244.4 L129.4 248.5 L129.8 254.9 L130.3 257.7 L130.7 263.7 L131.1 280.1 L131.6 293.6 L132 309.1 L132.4 305.7 L132.9 299.9 L133.3 294.9 L133.7 290.6 L134.1 285.7 L134.5 283.8 L135 281.4 L135.4 278.8 L135.8 286 L136.2 291.7 L136.6 296.8 L137.1 304 L137.4 290.3 L137.7 275.5 L138.2 275.1 L138.6 271.9 L139 269.8 L139.5 268.2 L139.9 267.1 L140.3 273.2 L140.8 277.1 L141.2 272.8 L141.7 265.9 L142.1 262 L142.5 265.2 L142.9 266.8 L143.3 269.1 L143.7 274.4 L144.1 275.5 L144.5 276.1 L145 273.7 L145.4 274.3 L145.8 273.8 L146.2 281 L146.7 286.1 L147.1 293.3 L147.5 300.9 L148 306.6 L148.4 298.7 L148.8 295.9 L149.2 290.9 L149.6 285 L150 278.8 L150.4 275.8 L150.8 276.7 L151.3 273.9 L151.7 273.8 L152.1 282.9 L152.5 291.4 L152.9 299 L153.3 292.1 L153.7 283.7 L154.1 276.8 L154.5 270.4 L155 290.1 L155.4 306.3 L155.9 326.1 L156.3 316.1 L156.7 305.6 L157.1 294 L157.6 283.9 L158 284.5 L158.4 278.9 L158.8 279.1 L159.2 273.8 L159.7 268.6 L160.1 265.8 L160.5 267.5 L160.9 263.7 L161.3 266.2 L161.8 266.7 L162.2 268.7 L162.6 270.4 L163 269.6 L163.4 273 L163.9 274.1 L164.3 277.1 L164.7 273.5 L165.1 271.6 L165.5 267.1 L166 263.7 L166.4 263.3 L166.8 261.1 L167.2 260.6 L167.6 260.3 L168.1 261.8 L168.5 262.7 L168.9 266 L169.3 264.6 L169.7 267.1 L170.1 277.3 L170.5 281.3 L170.9 291.8 L171.3 298.2 L171.8 286.8 L172.2 279.6 L172.7 267.1 L173.1 269.3 L173.5 271.8 L173.9 274.3 L174.4 275.5 L174.8 276.7 L175.2 278.1 L175.6 278.9 L176 285.1 L176.4 285.5 L176.8 281.7 L177.2 278.9 L177.6 276.7 L178.1 273.8 L178.5 284.2 L179 287.2 L179.4 297.3 L179.9 289.2 L180.3 280 L180.8 272.1 L181.2 274.6 L181.6 273.5 L182 277.1 L182.4 280.6 L182.8 281.3 L183.2 280.2 L183.6 277.1 L184 270.8 L184.5 268.7 L184.9 268.3 L185.4 267.5 L185.8 267.1 L186.2 270.7 L186.6 276.1 L187.1 284.4 L187.5 288.9 L187.9 282.1 L188.3 274.4 L188.7 269.1 L189.2 260.3 L189.6 264 L190 270.3 L190.4 268.6 L190.8 265.5 L191.3 263 L191.7 261.4 L192.1 258.6 L192.5 256 L192.9 259 L193.4 261.8 L193.8 266.7 L194.2 266.9 L194.6 265.9 L195 267.1 L195.4 265.2 L195.7 275.2 L196.1 283.2 L196.4 292.9 L196.8 287 L197.2 277.8 L197.6 271.9 L198 275.5 L198.4 275.1 L198.8 277.6 L199.2 280.3 L199.6 277.4 L200 274.7 L200.4 270.3 L200.8 272.3 L201.3 273.1 L201.7 272.5 L202.1 273.6 L202.5 275.2 L203 279.9 L203.4 282 L203.9 286.6 L204.3 289.2 L204.7 295.9 L205.1 298.8 L205.6 311.1 L206 321.7 L206.5 335 L206.9 331.3 L207.3 324.8 L207.7 321.2 L208.1 318.7 L208.5 313.9 L208.9 310.7 L209.3 311.5 L209.7 308.4 L210.2 308.9 L210.6 308.6 L211 305.4 L211.4 305.4 L211.8 303.9 L212.3 309.1 L212.7 318.2 L213.1 313.5 L213.5 311 L213.9 305.5 L214.3 305.6 L214.8 302 L215.2 303.9 L215.6 307.9 L216 310.6 L216.4 312.3 L216.8 308.7 L217.3 307.9 L217.7 303 L218.1 304.2 L218.5 308 L218.9 310.6 L219.4 321.6 L219.8 331.3 L220.3 339.2 L220.7 327.7 L221.1 311.4 L221.6 299.7 L222 299.9 L222.4 305.2 L222.8 307.2 L223.2 310.4 L223.6 317.1 L223.9 322.4 L224.3 313.4 L224.6 309.2 L225 300.5 L225.4 303.8 L225.7 305.7 L226.1 307.2 L226.6 306.4 L227 305.6 L227.4 304.3 L227.8 303.9 L228.2 302.9 L228.7 301.2 L229.1 300.1 L229.5 298 L229.9 299.4 L230.4 304.4 L230.8 303.9 L231.2 299.5 L231.6 296.2 L232 289.6 L232.5 296.1 L232.9 298 L233.4 303.9 L233.8 297.8 L234.1 297.7 L234.5 292.1 L234.9 296.1 L235.3 301.2 L235.7 305.5 L236.2 301 L236.6 297.3 L237 291.4 L237.5 288.6 L237.9 284.5 L238.3 288.4 L238.7 293.5 L239.1 298 L239.5 292.8 L239.9 293.8 L240.4 299.3 L240.8 303.2 L241.3 307.2 L241.7 307.8 L242 311.9 L242.4 315.6 L242.9 319.6 L243.3 324.3 L243.8 327.4 L244.1 331.3 L244.5 337 L244.8 339.2 L245.3 333.1 L245.7 325.8 L246.2 320.1 L246.7 315.9 L247.1 308.9 L247.6 307.7 L248 309.2 L248.4 309 L248.8 307.2 L249.3 305.2 L249.7 302.9 L250.2 298.8 L250.6 303.1 L251 307.8 L251.3 312.3 L251.7 316 L252.1 320.4 L252.5 325.7 L253 318.6 L253.4 314.9 L253.9 310.6 L254.3 312.1 L254.7 314.6 L255.1 319.6 L255.5 322.4 L256 318.2 L256.4 312.5 L256.9 310 L257.3 304.8 L257.7 298.8 L258.1 305.2 L258.5 308.1 L258.9 313.9 L259.4 315.9 L259.8 322.5 L260.3 325.7 L260.6 328.9 L261 332.3 L261.4 334.1 L261.8 331.3 L262.3 327.4 L262.7 332.8 L263.1 335 L263.5 344.7 L263.9 355.1 L264.4 368.6 L264.8 380.3 L265.2 387.6 L265.6 397.1 L266.1 404.2 L266.5 417.3 L266.9 422.7 L267.3 431.2 L267.6 435.3 L268.1 429.4 L268.5 429.1 L269 424 L269.4 420.6 L269.8 418.5 L270.3 416.5 L270.7 413.9 L271.1 412.5 L271.5 409.3 L271.9 409.1 L272.4 407.2 L272.8 405.3 L273.2 403.3 L273.6 398.7 L274 397.1 L274.5 398.3 L274.9 397.9 L275.3 397.8 L275.7 393.8 L276.1 390.4 L276.6 390.6 L277 386.3 L277.4 387.1 L277.8 385.9 L278.2 384.4 L278.7 380.5 L279.1 380.3 L279.5 377.4 L279.9 378.9 L280.3 378.6 L280.8 375.9 L281.2 375.8 L281.6 375.3 L282 370.9 L282.4 372.1 L282.9 372.1 L283.3 371 L283.7 371.7 L284.1 368.6 L284.5 367.1 L285 365.6 L285.4 369.2 L285.8 367.8 L286.2 368.9 L286.6 368.6 L287.1 368.7 L287.5 367.7 L287.9 367.9 L288.3 367 L288.7 362.2 L289.2 363.5 L289.6 364.3 L290 367.8 L290.4 365.5 L290.8 366.9 L291.3 365.6 L291.7 361.8 L292.1 358.8 L292.5 356.8 L292.9 357.2 L293.4 354.8 L293.8 351.4 L294.2 351.3 L294.6 346.7 L295 346.7 L295.5 344.5 L295.9 345.4 L296.3 343 L296.7 341.7 L297.1 340.3 L297.6 342.3 L298 342.1 L298.4 343.4 L298.8 342.9 L299.2 341.7 L299.6 342.6 L300 344.2 L300.5 341.7 L301 340.7 L301.4 338.9 L301.9 340.5 L302.4 339.2 L302.9 337.1 L303.4 332.9 L303.8 333.8 L304.2 332.8 L304.6 335.1 L305 332.8 L305.5 334.1 L305.9 333.8 L306.3 327.7 L306.7 327.1 L307.1 327.6 L307.5 320 L307.9 319 L308.3 311.1 L308.7 308.9 L309.1 334.3 L309.4 360.3 L309.8 355.9 L310.2 348 L310.5 337 L310.9 330.1 L311.3 328.1 L311.8 327.7 L312.2 325 L312.6 325.7 L313 325.6 L313.4 324.7 L313.8 325 L314.1 325.3 L314.5 330 L314.8 334.1 L315.2 338.1 L315.7 341.4 L316.1 347.6 L316.5 334.8 L316.8 328 L317.1 315.6 L317.5 317.6 L317.8 311.7 L318.2 310.6 L318.6 313.1 L319 318.3 L319.4 320.2 L319.8 324 L320.2 322.3 L320.6 326.2 L321 323.4 L321.4 324.2 L321.8 329.1 L322.3 328.9 L322.7 330.3 L323.1 331.2 L323.5 334.1 L323.9 332 L324.3 331.9 L324.7 331.8 L325.1 328.7 L325.5 325.7 L326 327.5 L326.4 326.7 L326.9 330.8 L327.3 336.4 L327.7 340.5 L328.1 347.8 L328.5 355.6 L328.9 359.5 L329.3 357 L329.8 353.4 L330.2 349.5 L330.7 348 L331.1 345.2 L331.5 343.7 L331.9 340.1 L332.4 339.2 L332.8 340.2 L333.2 333.7 L333.6 335.1 L334 333.3 L334.5 330.9 L334.9 335 L335.3 332.2 L335.7 331.1 L336.1 329.1 L336.6 331.4 L337 332.8 L337.4 334.3 L337.8 332.3 L338.2 337.4 L338.7 338.5 L339.1 341 L339.5 338.6 L339.9 344.3 L340.3 345.4 L340.8 342.6 L341.2 346.9 L341.7 346.8 L342.1 348 L342.6 348.4 L343.1 351 L343.6 348.7 L344 351.9 L344.5 344.4 L344.9 338.2 L345.4 330.8 L345.9 332.7 L346.3 332 L346.8 332.1 L347.3 334.5 L347.8 330 L348.3 336.1 L348.7 335 L349.2 331.4 L349.6 326.7 L350 325.3 L350.4 319.7 L350.8 316.4 L351.3 317.3 L351.7 316.4 L352.1 315.3 L352.5 317.9 L352.9 314.5 L353.4 313.4 L353.8 315.6 L354.2 314.4 L354.6 320 L355 317.4 L355.5 316.7 L355.9 316.6 L356.3 319 L356.7 319.3 L357.1 323.6 L357.6 327.1 L358 328.7 L358.4 320.7 L358.8 310.4 L359.2 298 L359.6 305.5 L360.1 310.7 L360.5 319 L360.9 314 L361.3 307.9 L361.8 307 L362.2 305.5 L362.6 308 L363 308.3 L363.4 311.3 L363.9 309.7 L364.3 315.7 L364.7 315.6 L365.1 314.1 L365.5 311.5 L366 310.1 L366.4 307.2 L366.8 305.2 L367.2 310.6 L367.6 312.2 L368.1 319.6 L368.5 318.1 L368.9 320.7 L369.3 316.4 L369.7 315.6 L370.2 308.6 L370.6 307.2 L371 303.6 L371.4 293.3 L371.8 288.2 L372.3 282 L372.7 309.8 L373.1 341 L373.5 334.9 L373.9 321.7 L374.4 319.5 L374.8 310.6 L375.2 307.8 L375.6 308.2 L376.1 304.6 L376.5 305.5 L376.9 305.1 L377.3 304.2 L377.7 304.1 L378.2 302.2 L378.6 304.2 L379 306.2 L379.4 308.3 L379.8 307 L380.3 306.9 L380.7 310.6 L381.1 307 L381.5 309.6 L381.9 306.5 L382.4 308.1 L382.8 305.1 L383.2 303.9 L383.6 302.5 L384 306.7 L384.5 309.2 L384.9 305.8 L385.3 304.9 L385.7 307.2 L386.1 305.9 L386.6 309.5 L387 307 L387.4 307.6 L387.8 309.9 L388.2 308.9 L388.7 306.7 L389.1 304.6 L389.5 301.2 L389.9 298.7 L390.3 298 L390.8 295.5 L391.2 297.4 L391.6 299.9 L392 299.6 L392.4 302.8 L392.9 304.8 L393.3 305.5 L393.7 301.1 L394.1 297.4 L394.5 293.6 L395 287.1 L395.4 299.8 L395.7 311.9 L396.1 324 L396.6 317.5 L397 315.2 L397.4 309.7 L397.9 304.6 L398.3 300.5 L398.7 302.3 L399.2 308.3 L399.6 315.5 L400 313.9 L400.4 310.6 L400.8 305.7 L401.3 302.2 L401.7 297.1 L402.1 298.5 L402.5 302.4 L402.9 303.4 L403.4 307.2 L403.8 301.4 L404.2 298.4 L404.6 293.8 L405 288.7 L405.5 283.9 L405.9 278 L406.3 275.4 L406.7 270.3 L407.1 274.1 L407.6 283.5 L408 287.2 L408.4 293.8 L408.8 296.3 L409.2 300.3 L409.7 302.4 L410.1 303.9 L410.5 299.7 L410.9 300 L411.3 299.5 L411.8 297.1 L412.2 297.3 L412.6 297.1 L413 303.7 L413.4 306 L413.9 309.2 L414.3 310.6 L414.7 311.6 L415.1 312.5 L415.5 313.6 L416 313.9 L416.4 314.9 L416.8 311.5 L417.2 309.9 L417.6 307.2 L418.1 304.2 L418.5 304.9 L418.9 300.2 L419.3 299.7 L419.7 292 L420.2 293.8 L420.6 297.2 L421 299.5 L421.4 301.7 L421.8 305.5 L422.3 305.9 L422.7 302.1 L423.1 299 L423.5 297.1 L423.9 297.8 L424.4 304.1 L424.8 303.6 L425.2 305.1 L425.6 304.1 L426.1 307.2 L426.5 310.8 L426.9 310.5 L427.3 310.1 L427.7 311.5 L428.2 309.7 L428.6 313.9 L429 312.7 L429.4 306.8 L429.8 308 L430.3 303.9 L430.3 305.5 L430.7 303.6 L431.2 302.3 L431.6 303.1 L432.1 301.8 L432.5 300.4 L432.9 297.9 L433.4 299.4 L433.8 300.3 L434.2 298.7 L434.6 302.2 L435 304 L435.5 310 L435.9 312.6 L436.3 317.3 L436.7 322.3 L437.1 318.2 L437.6 313.8 L438 309.3 L438.4 305.5 L438.8 308.2 L439.2 317.9 L439.7 322.7 L440.1 329 L440.5 308.1 L441 289 L441.4 268.5 L441.8 267.1 L442.1 258.4 L442.5 284.5 L443 312.5 L443.4 344.1 L443.9 342.6 L444.3 336.7 L444.7 337.8 L445.1 332.4 L445.5 327.5 L446 325.6 L446.4 325.1 L446.8 320.6 L447.2 323.7 L447.6 324.1 L448 325.5 L448.4 325.7 L448.8 327.3 L449.2 325.2 L449.7 324.4 L450.1 325.9 L450.5 322.3 L450.9 324.6 L451.4 324.3 L451.8 325.9 L452.3 327.9 L452.7 327.3 L453.1 327.5 L453.6 323 L454 321.1 L454.4 319.9 L454.9 317.2 L455.3 320.5 L455.7 314.3 L456.1 314.6 L456.5 307.6 L456.9 308.8 L457.3 311.8 L457.7 308.9 L458.1 310.8 L458.5 313 L458.9 315.5 L459.3 313.6 L459.8 312.5 L460.2 311.2 L460.7 309.2 L461.1 307.1 L461.5 307.2 L461.9 313.7 L462.4 310.4 L462.8 310.5 L463.2 310.1 L463.6 311 L464 307.3 L464.5 303.8 L464.9 303.6 L465.3 301.9 L465.7 303.5 L466.1 298.7 L466.6 298.4 L467 300.3 L467.4 304.1 L467.8 305.5 L468.2 300.8 L468.7 302.3 L469.1 305.1 L469.5 301.2 L469.9 301.6 L470.3 300.4 L470.8 301.6 L471.2 297.9 L471.6 300.5 L472 298.7 L472.4 297.7 L472.9 299.6 L473.3 299.6 L473.7 300.5 L474.2 300.3 L474.6 300.4 L475 302.1 L475.4 302.6 L475.8 301.6 L476.3 299.1 L476.7 296.5 L477.1 295.4 L477.5 292.3 L477.9 291.7 L478.3 290.1 L478.7 291.2 L479.2 293.9 L479.6 297.5 L480 299.8 L480.4 300.4 L480.8 303.3 L481.3 305.6 L481.7 309.6 L482.1 312.2 L482.5 314.1 L483 316.7 L483.4 317.2 L483.8 330.1 L484.1 337.4 L484.6 334.1 L485 337.3 L485.4 327.4 L485.9 326 L486.3 327.3 L486.7 322.8 L487.1 322 L487.6 321.8 L488 320.6 L488.4 323.8 L488.8 318 L489.2 320.8 L489.7 318.1 L490.1 317.2 L490.5 318 L491 315.6 L491.4 321.7 L491.8 317.2 L492.3 315.8 L492.7 313.4 L493.1 317.5 L493.5 312.2 L493.9 310.5 L494.3 311.6 L494.7 310.8 L495.1 309.8 L495.5 308.9 L496 311.6 L496.4 312.2 L496.8 314 L497.2 310.5 L497.6 308.1 L498.1 307.1 L498.5 309.6 L498.9 306.2 L499.3 311 L499.7 308.8 L500.2 306.7 L500.6 303.1 L501 303.8 L501.4 300.4 L501.8 300.1 L502.3 297.3 L502.7 297 L503.1 295.4 L503.5 296.8 L503.9 297.2 L504.4 292.5 L504.8 288.7 L505.2 297.1 L505.6 292.9 L506.1 294.3 L506.5 295.9 L506.9 299.3 L507.3 300.4 L507.7 303.8 L508.2 310.8 L508.6 310.7 L509 317.2 L509.4 319.4 L509.8 319.9 L510.3 327.7 L510.7 327.3 L511.1 324.7 L511.5 325.2 L511.9 323.6 L512.4 318.9 L512.8 317.9 L513.2 321 L513.6 324 L514 323.9 L514.5 325.3 L514.9 326.2 L515.3 329.3 L515.7 329 L516.1 327.8 L516.6 322 L517 319.9 L517.4 317.2 L517.8 317.6 L518.2 315.9 L518.7 315 L519.1 313.9 L519.5 314.7 L519.9 323.1 L520.3 322.3 L520.8 325.6 L521.2 321.5 L521.6 316.3 L522 311.9 L522.4 307.1 L522.9 309.1 L523.3 308.9 L523.7 312.9 L524.1 313.9 L524.5 312.3 L525 307.1 L525.4 303.9 L525.8 298.7 L526.2 298.4 L526.6 296.3 L527.1 298.4 L527.5 293.7 L527.9 292 L528.3 293.6 L528.7 294.4 L529.2 292 L529.6 291.3 L530 287.5 L530.4 286.2 L530.8 287 L531.3 296.6 L531.7 298.6 L532.2 307.1 L532.6 312.8 L533 319.4 L533.4 323.9 L533.8 318.7 L534.2 309.7 L534.6 304 L535 302.1 L535.5 303.6 L535.9 304 L536.3 306.7 L536.7 308.8 L537.1 306.9 L537.6 304.9 L538 300 L538.4 300.4 L538.8 300.2 L539.2 308.1 L539.7 308.1 L540.1 312.2 L540.5 316.1 L540.9 320.7 L541.3 330.7 L541.7 324.4 L542.2 313.7 L542.6 308.8 L543 305.6 L543.4 307.5 L543.9 305.6 L544.3 303.8 L544.7 302.3 L545.1 296.3 L545.5 290.8 L546 293.7 L546.4 293.1 L546.8 295.7 L547.2 296.2 L547.6 298.7 L548.1 297.5 L548.5 293.5 L548.9 287.9 L549.3 287 L549.7 291.8 L550.2 294.3 L550.6 297.4 L551 302.1 L551.4 300.9 L551.8 292.2 L552.3 294 L552.7 288.7 L553.1 290.1 L553.5 283.5 L553.9 286.4 L554.4 286.1 L554.8 289 L555.2 290.4 L555.6 294.7 L556.1 297.5 L556.5 302.4 L556.9 305.5 L557.3 299.8 L557.7 292.2 L558.2 293.9 L558.6 287 L559 290.4 L559.5 288.8 L560 292 L560.4 292.8 L560.8 294.2 L561.3 286.6 L561.7 288.7 L562.1 290.4 L562.5 292.7 L562.9 297.3 L563.4 298.7 L563.8 301 L564.3 301.7 L564.7 307.1 L565.1 305.7 L565.5 299 L566 297.2 L566.4 292 L566.8 297.4 L567.2 292.6 L567.6 294.3 L568 297.8 L568.4 297.1 L568.9 299.7 L569.3 303.6 L569.7 305.5 L570.1 302.7 L570.5 305.2 L570.9 297.1 L571.3 300.8 L571.8 302.8 L572.2 304.9 L572.6 307.1 L573 305.4 L573.4 299 L573.9 299.1 L574.3 297.1 L574.7 301.4 L575.1 300.7 L575.5 306 L576 308.8 L576.4 304.4 L576.8 299.4 L577.2 301 L577.6 292 L578 292.8 L578.4 291.5 L578.8 290.3 L579.3 292.5 L579.7 297.9 L580.1 300.9 L580.6 305 L581 308.8 L581.4 304.4 L581.8 303.9 L582.3 296.9 L582.7 289.5 L583.1 296.9 L583.5 300.5 L583.9 302.1 L584.3 303.5 L584.8 293 L585.2 290.3 L585.7 291.3 L586.1 297.5 L586.6 300.4 L587 303.9 L587.4 306.4 L587.8 308.1 L588.2 312.2 L588.7 309.3 L589.1 307.1 L589.5 300 L589.9 295.4 L590.3 292.7 L590.7 293.2 L591.1 288.7 L591.5 290.6 L591.9 293 L592.4 296.8 L592.8 298.7 L593.2 291.3 L593.6 296 L594 289.1 L594.5 286.1 L594.9 286.9 L595.3 286.3 L595.7 286.3 L596.1 285.3 L596.6 282.6 L597 288.2 L597.4 285.8 L597.8 284.5 L598.2 284 L598.7 288.3 L599.1 278.9 L599.5 280.3 L599.9 280 L600.4 276.7 L600.8 275.2 L601.2 269.8 L601.6 273.9 L602 267.6 L602.5 266.1 L602.9 270.7 L603.4 271.8 L603.7 282.6 L604 293.7 L604.5 288.5 L604.9 280.7 L605.4 276.9 L605.8 285.7 L606.3 289.7 L606.7 295.4 L607.1 289.4 L607.6 285.9 L608 285.2 L608.4 281.1 L608.8 281.2 L609.2 286.5 L609.7 288.7 L610.1 290.3 L610.5 293.2 L610.9 294.5 L611.3 302.1 L611.7 298 L612 299.4 L612.4 297.1 L612.9 300.6 L613.3 309.6 L613.8 310.5 L614.2 308 L614.6 307.9 L615 306.8 L615.5 303.8 L615.9 304.4 L616.3 305.2 L616.7 307 L617.1 305.5 L617.6 305.2 L618 306.1 L618.4 304.8 L618.8 309.3 L619.2 305.8 L619.7 305.5 L620.1 306.2 L620.5 298.1 L621 302 L621.4 300 L621.8 301.3 L622.2 305 L622.6 307.7 L623 312.2 L623.4 307.4 L623.8 306.1 L624.2 303.8 L624.6 309.8 L625.1 314.8 L625.5 317.2 L626 317.5 L626.4 321.8 L626.8 319.8 L627.2 322.3 L627.7 330.5 L628.1 334.7 L628.6 343.3 L629 336.6 L629.4 330.3 L629.7 317.2 L630.2 313.3 L630.6 312.8 L631 304.4 L631.4 303.8 L631.8 300.7 L632.3 305.1 L632.7 298 L633.1 296.2 L633.5 299.1 L633.9 296.9 L634.4 301.9 L634.8 303.8 L635.2 303.6 L635.6 308.6 L636.1 306.6 L636.5 308.8 L636.9 316.2 L637.3 311.8 L637.7 317 L638.2 318.9 L638.6 313.8 L639 315.6 L639.4 317.4 L639.8 313.9 L640.3 315.9 L640.7 315.9 L641.2 320.6 L641.6 319.9 L641.9 319 L642.3 316.4 L642.7 313.9 L643.1 318.6 L643.6 316.8 L644 322.3 L644.5 327.4 L644.9 327 L645.4 327.3 L645.8 316 L646.2 316.3 L646.6 305.5 L647 303.3 L647.4 303.9 L647.8 297.9 L648.2 300.4 L648.7 298 L649.1 294.4 L649.5 298.2 L649.9 295.4 L650.4 299.4 L650.8 302.6 L651.3 308.8 L651.7 312.6 L652 319.9 L652.4 322.3 L652.9 317 L653.3 315.8 L653.7 308.7 L654.1 307.1 L654.5 304.8 L655 307.9 L655.4 309.1 L655.8 310.5 L656.2 312.9 L656.6 316.5 L657.1 316 L657.5 318.9 L657.9 316.5 L658.3 317 L658.7 314.7 L659.2 312.2 L659.6 316 L660.1 320.5 L660.5 323.9 L660.9 316 L661.3 315.4 L661.8 309.6 L662.2 308.8 L662.6 309 L663 312.2 L663.4 308.2 L663.9 312.2 L664.3 313.1 L664.7 309.4 L665.1 309.3 L665.5 308.8 L666 308.4 L666.4 311 L666.8 308.8 L667.2 310.5 L667.6 304 L668 306.1 L668.4 302.7 L668.8 301.6 L669.2 297.9 L669.7 299.3 L670.1 296.2 L670.5 299.1 L670.9 299.2 L671.3 299.2 L671.8 299.6 L672.2 299.9 L672.6 300.5 L673 298.9 L673.4 299.9 L673.9 302.1 L674.3 300.4 L674.7 298.8 L675.1 301.1 L675.5 299.8 L676 302.1 L676.4 297.6 L676.9 296.3 L677.3 294.5 L677.7 298.4 L678.2 304.6 L678.6 304.9 L679 308.8 L679.4 308.9 L679.8 306.5 L680.2 303.8 L680.6 304.8 L681 299.6 L681.4 306.5 L681.8 307.1 L682.3 306.2 L682.7 303.1 L683.1 304.2 L683.5 302.9 L683.9 306 L684.4 301.2 L684.8 302.6 L685.2 303.8 L685.6 315 L686 319.4 L686.4 332.4 L686.8 327.9 L687.2 327.9 L687.6 326.6 L688.1 322.3 L688.6 324.1 L689 322.8 L689.5 325.3 L690 320.4 L690.4 319.9 L690.8 315.4 L691.3 316.3 L691.7 315.4 L692.1 315.7 L692.5 314.4 L692.9 309.2 L693.4 312 L693.8 314.4 L694.2 313.9 L694.6 316.7 L695 318.7 L695.5 322.4 L695.9 320.1 L696.3 320 L696.7 322.1 L697.1 320.8 L697.6 318.8 L698 322.8 L698.4 317.9 L698.9 324.8 L699.3 330.3 L699.7 333.9 L700.2 327.5 L700.6 322.6 L701 319.2 L701.4 313.7 L701.8 308.7 L702.3 314 L702.7 308.8 L703.1 310.3 L703.5 313 L703.9 316 L704.4 316.4 L704.8 320.4 L705.2 316.9 L705.6 313.3 L706 307.8 L706.4 315 L706.8 315.7 L707.2 322 L707.6 322.1 L708 317.4 L708.4 310.5 L708.8 305.3 L709.2 306.7 L709.7 303.9 L710.1 305 L710.5 304.5 L711 308.7 L711.4 312.8 L711.8 313.7 L712.3 315.9 L712.7 314.3 L713.2 318.7 L713.6 321.6 L714 319.9 L714.5 319.4 L714.9 320.4 L715.3 321.7 L715.7 327.1 L716.1 328.8 L716.4 327.2 L716.8 325.6 L717.2 322.1 L717.7 325.8 L718.1 332.9 L718.6 333.9 L719 337.9 L719.5 343.6 L719.9 347.3 L720.3 344.3 L720.8 342.6 L721.2 335.9 L721.6 333.9 L722 335.8 L722.4 338.5 L722.9 340.2 L723.3 343.9 L723.7 345.2 L724.1 346.7 L724.5 352.9 L725 354 L725.4 352.7 L725.8 343.8 L726.2 342.9 L726.6 337.2 L727.1 332.9 L727.5 331.5 L727.9 330.3 L728.3 328.8 L728.7 332 L729.2 335.6 L729.6 334 L730 340.6 L730.4 335.6 L730.8 335.7 L731.3 332.6 L731.7 330.5 L732.1 338.7 L732.5 338.4 L732.9 341.9 L733.4 347.3 L733.8 345 L734.2 333 L734.6 329.9 L735 328.8 L735.5 333.1 L735.9 326 L736.3 326.4 L736.7 325.5 L737.1 325.5 L737.6 324.6 L738 326.4 L738.4 327.1 L738.8 323 L739.2 325.6 L739.7 323.6 L740.1 320.4 L740.5 318.3 L740.9 312 L741.3 306.7 L741.8 307 L742.2 309.4 L742.5 311.6 L742.9 317.1 L743.4 315.1 L743.8 308.5 L744.2 307.1 L744.6 306.1 L745 310.6 L745.4 315.3 L745.8 318.7 L746.2 321.7 L746.7 321.9 L747.1 327.1 L747.6 331.4 L748 342.1 L748.5 343.9 L748.9 343.2 L749.3 337.3 L749.7 340 L750.2 333.9 L750.6 332.3 L751 331.3 L751.4 328.5 L751.8 328.8 L752.3 334.2 L752.7 334.1 L753.1 336.2 L753.5 338.9 L753.9 334.2 L754.4 330.6 L754.8 330.4 L755.2 327.1 L755.6 328.8 L756.1 333.4 L756.5 330.5 L756.9 333.9 L757.3 332 L757.7 333.4 L758.1 331.9 L758.5 327.9 L758.9 328 L759.3 331.8 L759.7 331 L760.2 332.8 L760.6 332.2 L761 332 L761.4 332.3 L761.8 328.9 L762.3 328.8 L762.7 329.1 L763.1 332.2 L763.5 331.6 L763.9 332.2 L764.3 332.2 L764.7 335.2 L765.1 334.3 L765.5 335.5 L766 335.5 L766.4 333 L766.8 337.9 L767.2 342.1 L767.6 342.3 L768.1 338.9 L768.5 338.3 L768.9 337.6 L769.3 335.5 L769.7 336.5 L770.2 339.7 L770.6 340.2 L771 340.6 L771.4 339 L771.8 340.1 L772.3 336.1 L772.7 335.5 L773.1 332.5 L773.5 332.8 L773.9 331.7 L774.4 328.8 L774.8 326.9 L775.2 323.4 L775.6 322.8 L776.1 322.1 L776.5 321.9 L776.9 322.1 L777.3 323.6 L777.7 319.6 L778.2 321.2 L778.6 322.9 L779 321.2 L779.4 327.1 L779.9 332.1 L780.3 333.9 L780.8 334.7 L781.2 332.4 L781.6 328.7 L782 322.8 L782.4 325.5 L782.9 326.4 L783.3 323.1 L783.7 327.1 L784.1 323.8 L784.5 325.6 L785 327.1 L785.4 324.8 L785.8 325.5 L786.2 326.5 L786.6 320.3 L787.1 324.4 L787.5 320.4 L787.9 319.5 L788.3 316.5 L788.7 317.1 L789.2 315.2 L789.6 316.7 L790 315.4 L790.4 317.9 L790.9 320.8 L791.3 327.1 L791.7 329.8 L792.1 333.4 L792.5 337.2 L792.9 335.9 L793.4 335.2 L793.8 334.6 L794.2 330.5 L794.6 332.5 L795 336.1 L795.5 329.6 L795.9 335.5 L796.3 335 L796.7 336.5 L797.1 331.8 L797.6 333.9 L798 336.2 L798.4 339.7 L798.8 339.1 L799.2 344.8 L799.7 341 L800.1 340.5 L800.5 336 L800.9 333.9 L801.3 338 L801.8 340.9 L802.2 337.5 L802.6 338.9 L803 338 L803.4 341.4 L803.9 341.6 L804.3 343.9 L804.7 339.1 L805.1 339 L805.5 336.8 L806 335.5 L806.4 333.2 L806.8 333.9 L807.2 332.5 L807.6 328.8 L808.1 325.8 L808.5 320.6 L808.9 318.3 L809.3 313.7" fill="none" stroke="#ed7d31" stroke-width="2.3" stroke-linejoin="round" stroke-linecap="round"/>
<line x1="53.6" x2="810" y1="519.3" y2="519.3" stroke="#d0d0d0" stroke-width="1"/>
<text class="xl" transform="translate(57.3 557) rotate(-90)" >18-01-02</text>
<text class="xl" transform="translate(73.3 557) rotate(-90)" >18-03-02</text>
<text class="xl" transform="translate(89.3 557) rotate(-90)" >18-05-02</text>
<text class="xl" transform="translate(105.2 557) rotate(-90)" >18-07-02</text>
<text class="xl" transform="translate(121.2 557) rotate(-90)" >18-09-02</text>
<text class="xl" transform="translate(137.2 557) rotate(-90)" >18-11-02</text>
<text class="xl" transform="translate(153.2 557) rotate(-90)" >19-01-02</text>
<text class="xl" transform="translate(169.2 557) rotate(-90)" >19-03-02</text>
<text class="xl" transform="translate(185.1 557) rotate(-90)" >19-05-02</text>
<text class="xl" transform="translate(201.1 557) rotate(-90)" >19-07-02</text>
<text class="xl" transform="translate(217.1 557) rotate(-90)" >19-09-02</text>
<text class="xl" transform="translate(233.1 557) rotate(-90)" >19-11-02</text>
<text class="xl" transform="translate(249 557) rotate(-90)" >20-01-02</text>
<text class="xl" transform="translate(265 557) rotate(-90)" >20-03-02</text>
<text class="xl" transform="translate(281 557) rotate(-90)" >20-05-02</text>
<text class="xl" transform="translate(297 557) rotate(-90)" >20-07-02</text>
<text class="xl" transform="translate(313 557) rotate(-90)" >20-09-02</text>
<text class="xl" transform="translate(328.9 557) rotate(-90)" >20-11-02</text>
<text class="xl" transform="translate(344.9 557) rotate(-90)" >21-01-02</text>
<text class="xl" transform="translate(360.9 557) rotate(-90)" >21-03-02</text>
<text class="xl" transform="translate(376.9 557) rotate(-90)" >21-05-02</text>
<text class="xl" transform="translate(392.9 557) rotate(-90)" >21-07-02</text>
<text class="xl" transform="translate(408.8 557) rotate(-90)" >21-09-02</text>
<text class="xl" transform="translate(424.8 557) rotate(-90)" >21-11-02</text>
<text class="xl" transform="translate(440.8 557) rotate(-90)" >22-01-02</text>
<text class="xl" transform="translate(456.8 557) rotate(-90)" >22-03-02</text>
<text class="xl" transform="translate(472.8 557) rotate(-90)" >22-05-02</text>
<text class="xl" transform="translate(488.7 557) rotate(-90)" >22-07-02</text>
<text class="xl" transform="translate(504.7 557) rotate(-90)" >22-09-02</text>
<text class="xl" transform="translate(520.7 557) rotate(-90)" >22-11-02</text>
<text class="xl" transform="translate(536.7 557) rotate(-90)" >23-01-02</text>
<text class="xl" transform="translate(552.6 557) rotate(-90)" >23-03-02</text>
<text class="xl" transform="translate(568.6 557) rotate(-90)" >23-05-02</text>
<text class="xl" transform="translate(584.6 557) rotate(-90)" >23-07-02</text>
<text class="xl" transform="translate(600.6 557) rotate(-90)" >23-09-02</text>
<text class="xl" transform="translate(616.6 557) rotate(-90)" >23-11-02</text>
<text class="xl" transform="translate(632.5 557) rotate(-90)" >24-01-02</text>
<text class="xl" transform="translate(648.5 557) rotate(-90)" >24-03-02</text>
<text class="xl" transform="translate(664.5 557) rotate(-90)" >24-05-02</text>
<text class="xl" transform="translate(680.5 557) rotate(-90)" >24-07-02</text>
<text class="xl" transform="translate(696.5 557) rotate(-90)" >24-09-02</text>
<text class="xl" transform="translate(712.4 557) rotate(-90)" >24-11-02</text>
<text class="xl" transform="translate(728.4 557) rotate(-90)" >25-01-02</text>
<text class="xl" transform="translate(744.4 557) rotate(-90)" >25-03-02</text>
<text class="xl" transform="translate(760.4 557) rotate(-90)" >25-05-02</text>
<text class="xl" transform="translate(776.4 557) rotate(-90)" >25-07-02</text>
<text class="xl" transform="translate(792.3 557) rotate(-90)" >25-09-02</text>
<text class="xl" transform="translate(808.3 557) rotate(-90)" >25-11-02</text>
<rect x="160" y="571.8" width="16.5" height="9" fill="#70ad47"/>
<text class="lg" x="179" y="582.6" textLength="106" lengthAdjust="spacing">투자자예탁금</text>
<rect x="310.7" y="571.8" width="16.5" height="9" fill="#5b9bd5"/>
<text class="lg" x="330" y="582.6" textLength="104" lengthAdjust="spacing">신용거래융자</text>
<line x1="460" x2="477.5" y1="576.2" y2="576.2" stroke="#ed7d31" stroke-width="2"/>
<text class="lg" x="480" y="582.6" textLength="205" lengthAdjust="spacing">예탁금 대비 신용융자 비율</text>
</svg></body></html>
